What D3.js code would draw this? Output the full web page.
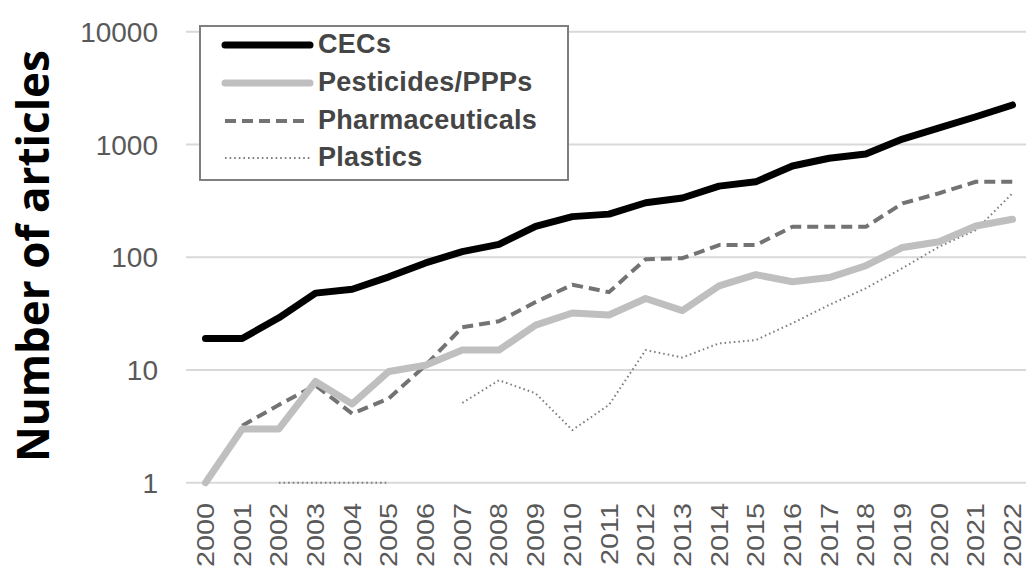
<!DOCTYPE html>
<html lang="en">
<head>
<meta charset="UTF-8">
<title>Number of articles</title>
<script src="https://cdn.jsdelivr.net/npm/d3@7"></script>
<style>
  body { margin: 0; background: #fff; }
</style>
</head>
<body>
<svg width="1026" height="569" id="chart"></svg>
<script>
// data (0 = no point drawn)
const years = d3.range(2000, 2023).map(String);
const cecs = [19, 19, 29, 48, 52, 67, 89, 112, 130, 188, 229, 241, 304, 335, 427, 466, 644, 755, 823, 1117, 1400, 1760, 2240];
const pesticides = [1, 3, 3, 7.9, 5, 9.7, 11, 15, 15, 25, 32, 30.7, 43, 33.6, 55.6, 70, 60.6, 66, 84, 122, 137, 189, 217];
const pharmaceuticals = [0, 3.2, 4.9, 7.3, 4.1, 5.6, 11, 23.9, 27, 40, 57, 49, 96, 98, 128, 128, 186, 186, 186, 300, 369, 467, 467];
const plastics = [0, 0, 1, 1, 1, 1, 0, 5.1, 8.1, 6.2, 2.93, 4.9, 15, 12.9, 17.2, 18.4, 26, 37.7, 53, 80, 124, 174, 369];
const yTicks = [1, 10, 100, 1000, 10000];

const series = [
  { name: "CECs", values: cecs, color: "#000", width: 7, dash: null },
  { name: "Pesticides/PPPs", values: pesticides, color: "#bfbfbf", width: 7, dash: null },
  { name: "Pharmaceuticals", values: pharmaceuticals, color: "#737373", width: 4, dash: "11,6" },
  { name: "Plastics", values: plastics, color: "#808080", width: 2, dash: "1.6,3" }
];

const svg = d3.select("#chart");
const plotLeft = 188, plotRight = 1032, plotTop = 31.7, plotBottom = 482.7;

const x = d3.scalePoint().domain(years).range([205.5, 1012.5]);
const y = d3.scaleLog().domain([1, 10000]).range([plotBottom, plotTop]);

// gridlines
svg.append("g").selectAll("line")
  .data(yTicks)
  .join("line")
  .attr("x1", plotLeft - 2).attr("x2", plotRight)
  .attr("y1", d => y(d)).attr("y2", d => y(d))
  .attr("stroke", "#d9d9d9").attr("stroke-width", 2);

// y tick labels
svg.append("g").selectAll("text")
  .data(yTicks)
  .join("text")
  .attr("x", 158).attr("y", d => y(d))
  .attr("dy", "0.36em")
  .attr("text-anchor", "end")
  .attr("font-family", "Liberation Sans, Arial, sans-serif")
  .attr("font-size", 28)
  .attr("fill", "#595959")
  .text(d => d);

// x tick labels (rotated, a bit stretched along the text like the original)
svg.append("g").selectAll("text")
  .data(years)
  .join("text")
  .attr("transform", d => `translate(${x(d) + 8.5},503) rotate(-90) scale(1.2,1)`)
  .attr("text-anchor", "end")
  .attr("font-family", "Liberation Sans, Arial, sans-serif")
  .attr("font-size", 24)
  .attr("fill", "#595959")
  .text(d => d);

// y axis title
svg.append("text")
  .attr("transform", "translate(49,256) rotate(-90)")
  .attr("text-anchor", "middle")
  .attr("font-family", "Open Sans, sans-serif")
  .attr("font-weight", "bold")
  .attr("font-size", 44)
  .attr("fill", "#000")
  .text("Number of articles");

// lines
const line = d3.line()
  .defined(d => d.v > 0)
  .x(d => x(d.year))
  .y(d => y(d.v));

series.slice().reverse().forEach(s => {
  svg.append("path")
    .datum(years.map((yr, i) => ({ year: yr, v: s.values[i] })))
    .attr("d", line)
    .attr("fill", "none")
    .attr("stroke", s.color)
    .attr("stroke-width", s.width)
    .attr("stroke-linejoin", "round")
    .attr("stroke-linecap", s.dash ? "butt" : "round")
    .attr("stroke-dasharray", s.dash);
});

// legend
const legend = svg.append("g");
legend.append("rect")
  .attr("x", 200).attr("y", 26)
  .attr("width", 368).attr("height", 154)
  .attr("fill", "#fff")
  .attr("stroke", "#7f7f7f").attr("stroke-width", 2);

const rowY = [45, 83, 121, 158];
series.forEach((s, i) => {
  legend.append("line")
    .attr("x1", 225).attr("x2", 310)
    .attr("y1", rowY[i]).attr("y2", rowY[i])
    .attr("stroke", s.color)
    .attr("stroke-width", s.width)
    .attr("stroke-linecap", s.dash ? "butt" : "round")
    .attr("stroke-dasharray", s.dash);
  legend.append("text")
    .attr("x", 318).attr("y", rowY[i] - 2)
    .attr("dy", "0.36em")
    .attr("font-family", "Liberation Sans, Arial, sans-serif")
    .attr("font-weight", "bold")
    .attr("font-size", 27)
    .attr("letter-spacing", 0.3)
    .attr("fill", "#454545")
    .text(s.name);
});
</script>
</body>
</html>
